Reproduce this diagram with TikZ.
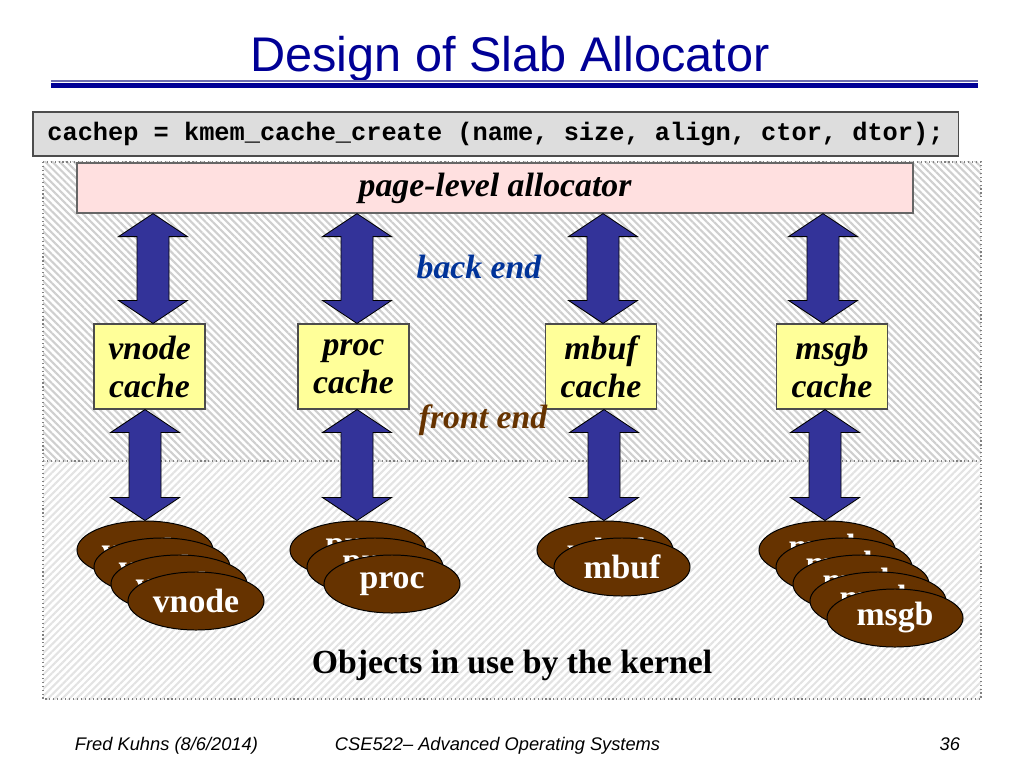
\documentclass[tikz,border=0pt]{standalone}
\usepackage{fontspec}
\setmainfont{Liberation Serif}
\setmonofont{Liberation Mono}
\newfontfamily\slidefont{Liberation Sans}
\usetikzlibrary{calc,shapes.geometric,patterns.meta}

\definecolor{titleblue}{RGB}{0,0,150}
\definecolor{rulelight}{RGB}{110,110,175}
\definecolor{codegray}{RGB}{221,221,221}
\definecolor{allocpink}{RGB}{255,224,224}
\definecolor{cacheyellow}{RGB}{255,255,153}
\definecolor{arrowblue}{RGB}{51,51,153}
\definecolor{objbrown}{RGB}{102,51,0}
\definecolor{backblue}{RGB}{0,51,153}

% fat two-headed arrow, tip (#1) on top, tip (#2) below
\newcommand{\fatarrow}[2]{%
  \draw[fat] (#1) -- ++(34.5,23) -- ++(-18.5,0) -- ($(#2)+(16,-23)$) -- ++(18.5,0)
    -- (#2) -- ++(-34.5,-23) -- ++(18.5,0) -- ($(#1)+(-16,23)$) -- ++(-18.5,0) -- cycle;}

\begin{document}
\begin{tikzpicture}[x=0.025cm, y=-0.025cm,
    fat/.style={draw=black, line width=0.6pt, fill=arrowblue},
    cachebox/.style={draw=black!70, line width=0.8pt, fill=cacheyellow, align=center,
      minimum width=2.775cm, minimum height=2.125cm, inner sep=0pt,
      font=\fontsize{24}{27}\selectfont\bfseries\itshape},
    obj/.style={ellipse, draw=black, line width=0.7pt, fill=objbrown, text=white,
      minimum width=3.4cm, minimum height=1.45cm, inner sep=0pt,
      font=\fontsize{24}{26}\selectfont\bfseries},
    footer/.style={font=\slidefont\itshape\fontsize{13}{15}\selectfont, anchor=base}]
    \useasboundingbox (0,0) rectangle (1024,768);

    % Title
    \node[font=\slidefont\fontsize{34.6}{40}\selectfont, text=titleblue, anchor=base] (title) at (510,72) {Design of Slab Allocator};
    \draw[rulelight, line width=1pt] (51,81) -- (978,81);
    \draw[titleblue, line width=2.9pt] (51,85.5) -- (978,85.5);

    % Call
    \node[draw=black!70, line width=0.9pt, fill=codegray, minimum width=23.125cm, minimum height=1.1cm, inner sep=0pt,
      font=\ttfamily\bfseries\fontsize{18}{20}\selectfont] (call) at (495.5,134) {cachep = kmem\_cache\_create (name, size, align, ctor, dtor);};

    % Hatched background
    \fill[pattern={Lines[angle=-45, distance=3.6pt, line width=1.5pt]}, pattern color=gray!38] (43,162) rectangle (981,461);
    \fill[pattern={Lines[angle=45, distance=3.6pt, line width=1.5pt]}, pattern color=gray!22] (43,461) rectangle (981,699);
    \draw[gray, dotted, line width=0.8pt] (43,162) rectangle (981,699);
    \draw[gray, dotted, line width=0.8pt] (43,461) -- (981,461);

    % Page level allocator
    \node[draw=black!60, line width=0.9pt, fill=allocpink, minimum width=20.9cm, minimum height=1.25cm, inner sep=0pt,
      font=\fontsize{24}{26}\selectfont\bfseries\itshape] (alloc) at (495,188) {page-level allocator};

    % Caches
    \node[cachebox] (vc) at (149.5,366.5) {vnode\\cache};
    \node[cachebox] (pc) at (353.5,366.5) {proc\\cache};
    \node[cachebox] (mc) at (601,366.5) {mbuf\\cache};
    \node[cachebox] (gc) at (832,366.5) {msgb\\cache};

    \node[font=\fontsize{24}{26}\selectfont\bfseries\itshape, text=backblue] (back) at (479,267) {back end};
    \node[font=\fontsize{24}{26}\selectfont\bfseries\itshape, text=objbrown] (front) at (483,420) {front end};

    % Objects
    \node[obj] (v1) at (145,550) {vnode};
    \node[obj] (v2) at (162,567) {vnode};
    \node[obj] (v3) at (179,584) {vnode};
    \node[obj] (v4) at (196,601) {vnode};
    \node[obj] (p1) at (358,550) {proc};
    \node[obj] (p2) at (375,567) {proc};
    \node[obj] (p3) at (392,584) {proc};
    \node[obj] (m1) at (605,550) {mbuf};
    \node[obj] (m2) at (622,567) {mbuf};
    \node[obj] (g1) at (827,550) {msgb};
    \node[obj] (g2) at (844,567) {msgb};
    \node[obj] (g3) at (861,584) {msgb};
    \node[obj] (g4) at (878,601) {msgb};
    \node[obj] (g5) at (895,618) {msgb};

    \node[font=\fontsize{24}{26}\selectfont\bfseries] (kernel) at (512,665) {Objects in use by the kernel};

    % Back end arrows
    \fatarrow{alloc.south -| 153,0}{vc.north -| 153,0}
    \fatarrow{alloc.south -| 357,0}{pc.north -| 357,0}
    \fatarrow{alloc.south -| 603,0}{mc.north -| 603,0}
    \fatarrow{alloc.south -| 823,0}{gc.north -| 823,0}

    % Front end arrows
    \fatarrow{vc.south -| 145,0}{v1.north -| 145,0}
    \fatarrow{pc.south -| 357,0}{p1.north -| 357,0}
    \fatarrow{mc.south -| 604,0}{m1.north -| 604,0}
    \fatarrow{gc.south -| 825,0}{g1.north -| 825,0}

    % Footer
    \node[footer, anchor=base west] (author) at (70,750) {Fred Kuhns (8/6/2014)};
    \node[footer, anchor=base west] (course) at (330,750) {CSE522– Advanced Operating Systems};
    \node[footer, anchor=base east] (page) at (965,750) {36};
\end{tikzpicture}
\end{document}
